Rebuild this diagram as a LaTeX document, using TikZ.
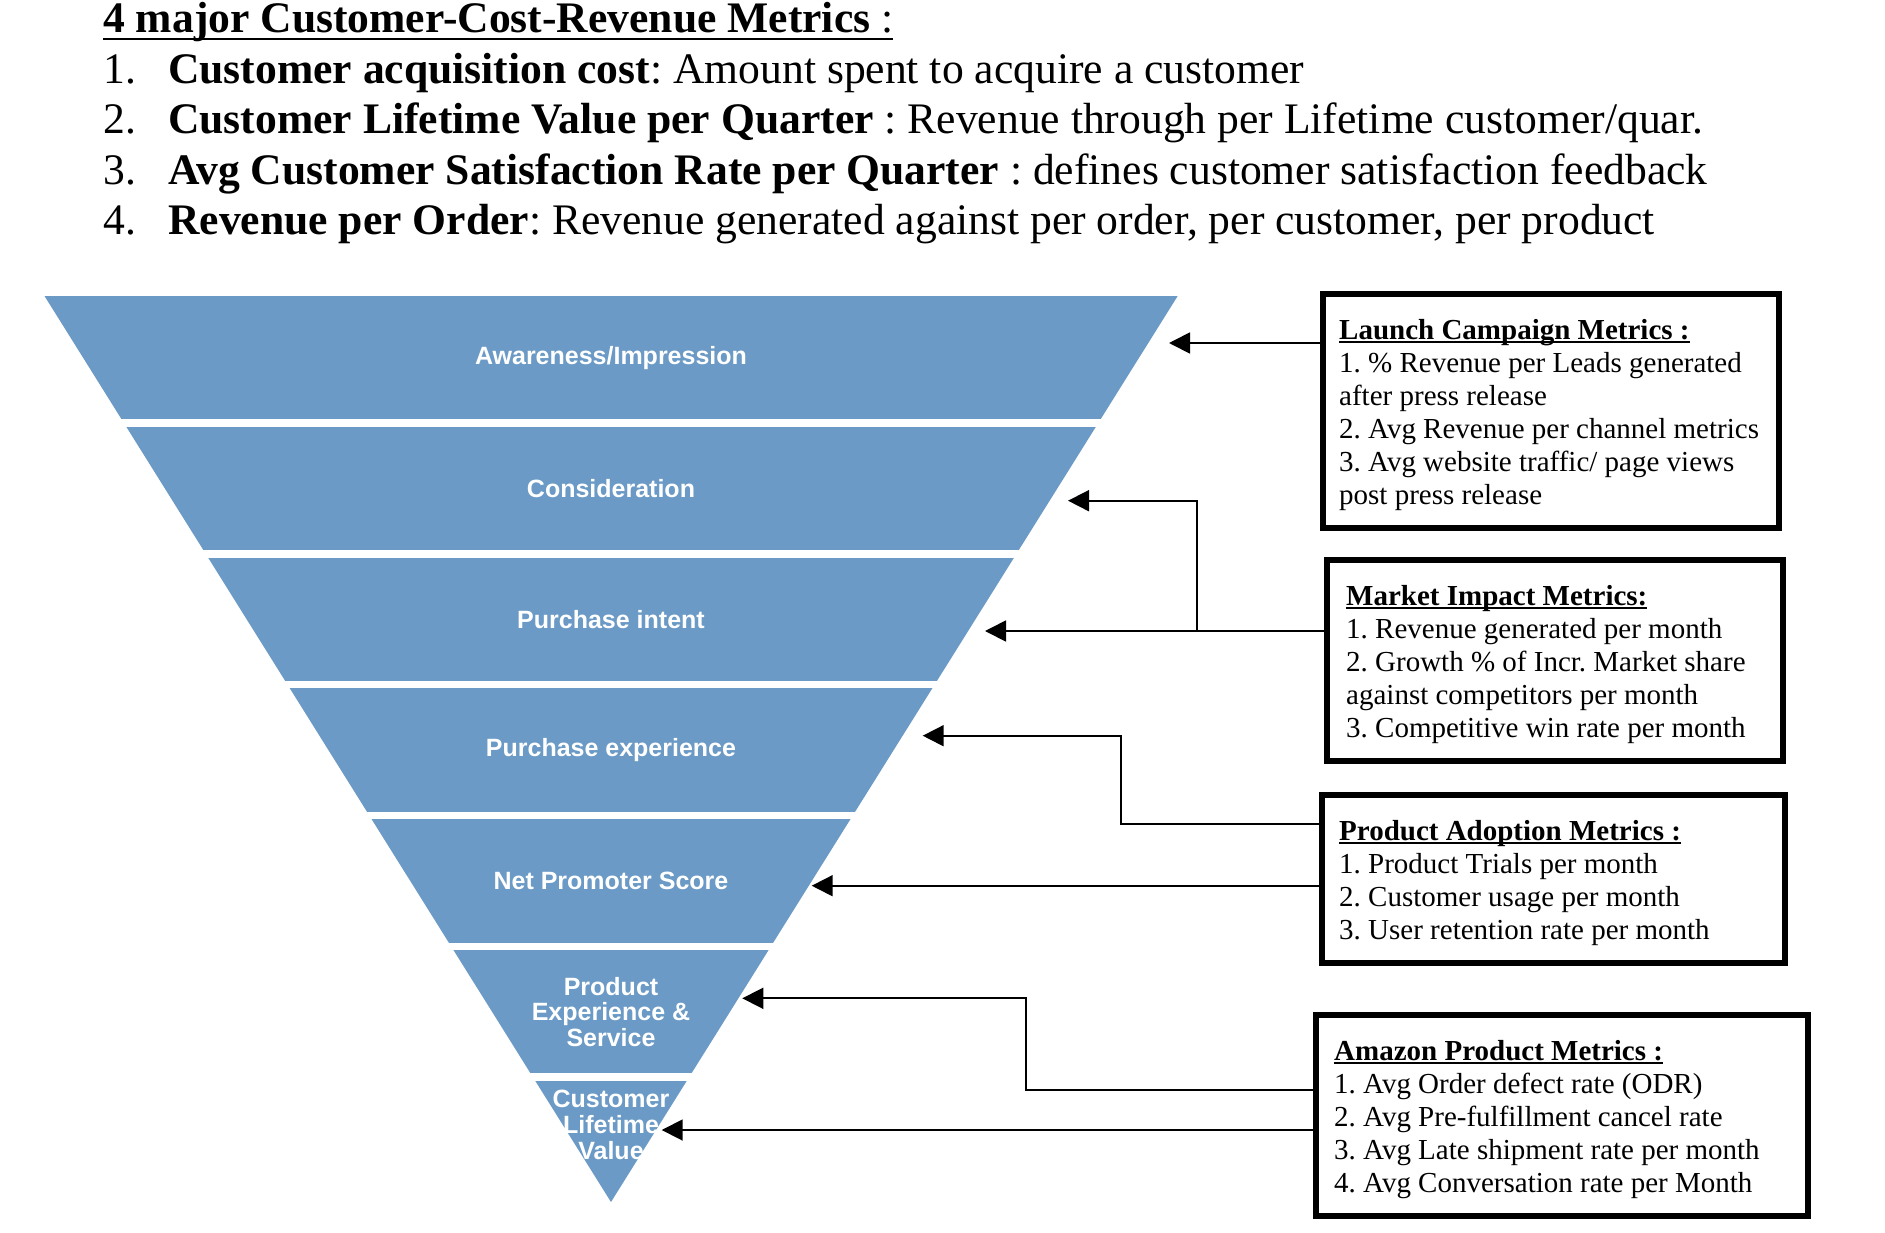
\documentclass[tikz,border=0pt]{standalone}
\usepackage{fontspec}
\setmainfont{Liberation Serif}
\setsansfont{Liberation Sans}
\usetikzlibrary{positioning,arrows.meta}

\definecolor{funnelblue}{RGB}{106,154,197}
\newcommand\ulhead[3]{\setbox0\hbox{#3}\rlap{\rule[-#1]{\wd0}{#2}}\box0}

\tikzset{
  stage/.style={text=white, inner sep=0pt, align=center,
    font=\sffamily\bfseries\fontsize{25}{25.7}\selectfont},
  metricbox/.style={draw, line width=6.5pt, outer sep=0pt, inner sep=0pt, anchor=north west},
  metrictext/.style={inner sep=0pt, font=\fontsize{29}{33.1}\selectfont},
  headline/.style={anchor=base west, inner sep=0pt, font=\fontsize{43.6}{50.5}\selectfont},
  feed/.style={-{Triangle[length=21pt,width=21pt]}, line width=1.8pt}
}

\begin{document}
\frenchspacing
\begin{tikzpicture}[x=1pt,y=-1pt]
    \useasboundingbox (0,0) rectangle (1885,1232);

    % heading and the four metrics
    \node[headline] (title) at (103,32)
      {\ulhead{8pt}{2.5pt}{\textbf{4 major Customer-Cost-Revenue Metrics} :}};
    \foreach \i/\y in {1/83,2/133.5,3/184,4/234.5}
      \node[headline] (num\i) at (103,\y) {\i.};
    \node[headline] (item1) at (168,83)
      {\textbf{Customer acquisition cost}: Amount spent to acquire a customer};
    \node[headline] (item2) at (168,133.5)
      {\textbf{Customer Lifetime Value per Quarter} : Revenue through per Lifetime customer/quar.};
    \node[headline] (item3) at (168,184)
      {\textbf{Avg Customer Satisfaction Rate per Quarter} : defines customer satisfaction feedback};
    \node[headline] (item4) at (168,234.5)
      {\textbf{Revenue per Order}: Revenue generated against per order, per customer, per product};

    % draw funnel
    \fill[funnelblue] (44.5,296) -- (1177.7,296) -- (611,1202) -- cycle;
    \foreach \k in {1,...,6}
      \fill[white] (0,{296+130.8*\k-7.5}) rectangle (1300,{296+130.8*\k});

    % funnel stages
    \node[stage] (aw) at (611,357.7) {Awareness/Impression};
    \node[stage] (cons) at (611,488.5) {Consideration};
    \node[stage] (pint) at (611,619.3) {Purchase intent};
    \node[stage] (pexp) at (611,750.1) {Purchase experience};
    \node[stage] (nps) at (611,880.9) {Net Promoter Score};
    \node[stage] (pes) at (611,1012) {Product\\Experience \&\\Service};
    \node[stage] (clv) at (611,1125) {Customer\\Lifetime\\Value};

    % metric boxes
    \node[metricbox, minimum width=456, minimum height=234] (launch) at (1323,294) {};
    \node[metricbox, minimum width=456, minimum height=201] (market) at (1327,560) {};
    \node[metricbox, minimum width=463, minimum height=168] (adopt) at (1322,795) {};
    \node[metricbox, minimum width=492, minimum height=201] (amazon) at (1316,1015) {};

    \node[metrictext, below right=21.8pt and 16pt of launch.north west] (launch-txt)
      {\begin{tabular}[t]{@{}l@{}}
        \ulhead{4pt}{2pt}{\textbf{Launch Campaign Metrics :}}\\
        1. \% Revenue per Leads generated\\
        after press release\\
        2. Avg Revenue per channel metrics\\
        3. Avg website traffic/ page views\\
        post press release
      \end{tabular}};
    \node[metrictext, below right=21.8pt and 19pt of market.north west] (market-txt)
      {\begin{tabular}[t]{@{}l@{}}
        \ulhead{4pt}{2pt}{\textbf{Market Impact Metrics:}}\\
        1. Revenue generated per month\\
        2. Growth \% of Incr. Market share\\
        against competitors per month\\
        3. Competitive win rate per month
      \end{tabular}};
    \node[metrictext, below right=21.8pt and 17pt of adopt.north west] (adopt-txt)
      {\begin{tabular}[t]{@{}l@{}}
        \ulhead{4pt}{2pt}{\textbf{Product Adoption Metrics :}}\\
        1. Product Trials per month\\
        2. Customer usage per month\\
        3. User retention rate per month
      \end{tabular}};
    \node[metrictext, below right=21.8pt and 18pt of amazon.north west] (amazon-txt)
      {\begin{tabular}[t]{@{}l@{}}
        \ulhead{4pt}{2pt}{\textbf{Amazon Product Metrics :}}\\
        1. Avg Order defect rate (ODR)\\
        2. Avg Pre-fulfillment cancel rate\\
        3. Avg Late shipment rate per month\\
        4. Avg Conversation rate per Month
      \end{tabular}};

    % arrow ends at the funnel and bends
    \coordinate (aw-in) at (1169,343);
    \coordinate (cons-in) at (1068,500.7);
    \coordinate (pint-in) at (985,631);
    \coordinate (pexp-in) at (922.7,735.7);
    \coordinate (nps-in) at (811.7,885.7);
    \coordinate (pes-in) at (742.3,998.3);
    \coordinate (clv-in) at (661.7,1130);
    \coordinate (mk-bend) at (1197,631);
    \coordinate (ad-bend) at (1121,824.3);
    \coordinate (am-bend) at (1026,1090);

    % draw arrows
    \draw[feed] (launch.west |- aw-in) -- (aw-in);
    \draw[feed] (market.west |- pint-in) -- (pint-in);
    \draw[feed] (mk-bend) |- (cons-in);
    \draw[feed] (adopt.west |- ad-bend) -- (ad-bend) |- (pexp-in);
    \draw[feed] (adopt.west |- nps-in) -- (nps-in);
    \draw[feed] (amazon.west |- am-bend) -- (am-bend) |- (pes-in);
    \draw[feed] (amazon.west |- clv-in) -- (clv-in);

\end{tikzpicture}
\end{document}
